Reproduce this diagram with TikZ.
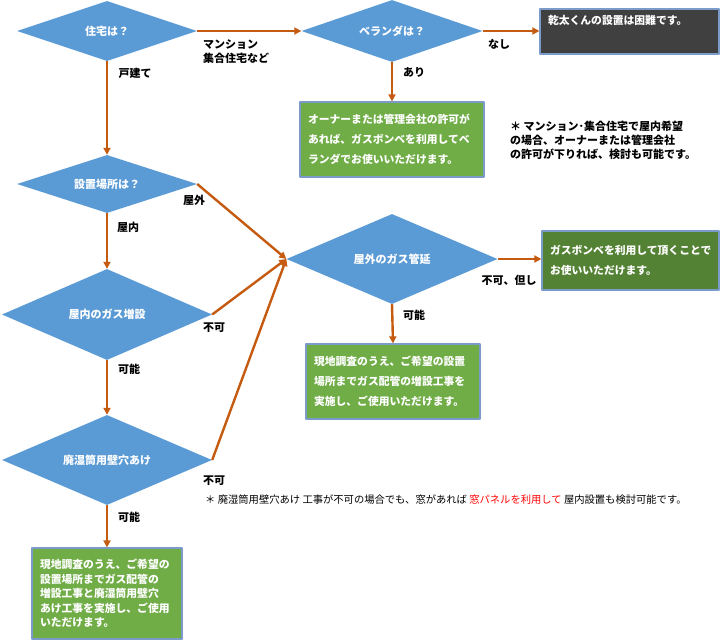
\documentclass[tikz,border=0pt]{standalone}
\usepackage{fontspec}
\setmainfont{Noto Sans CJK JP}
\usetikzlibrary{shapes.geometric,arrows.meta}
\definecolor{askblue}{HTML}{5B9BD5}
\definecolor{flowor}{HTML}{C55A11}
\definecolor{okgreen}{HTML}{70AD47}
\definecolor{deepgreen}{HTML}{548235}
\definecolor{ngdark}{HTML}{404040}
\definecolor{boxedge}{HTML}{7B9CCB}
\begin{document}
\begin{tikzpicture}[x=1pt,y=-1pt,line join=round,>={Triangle[length=7pt,width=7pt]},
  font=\fontsize{11}{14}\selectfont\bfseries,
  ask/.style={diamond,fill=askblue,text=white,inner sep=0pt,aspect=2.3},
  answer/.style={rectangle,fill=okgreen,draw=boxedge,line width=1.2pt,text=white,
    align=left,inner xsep=8pt,font=\fontsize{10.8}{20}\selectfont\bfseries},
  flow/.style={->,draw=flowor,line width=2.4pt},
  tag/.style={inner sep=0pt}]
	\useasboundingbox (0,0) rectangle (720,640);
	% questions
	\node[ask,minimum width=180pt,minimum height=60pt] (house) at (107,31) {住宅は？};
	\node[ask,minimum width=181pt,minimum height=62pt] (veranda) at (392,31) {ベランダは？};
	\node[ask,minimum width=180pt,minimum height=58pt] (place) at (107,184) {設置場所は？};
	\node[ask,minimum width=210pt,minimum height=91pt] (indoor) at (107,314.5) {屋内のガス増設};
	\node[ask,minimum width=210pt,minimum height=90pt] (wall) at (107,460) {廃湿筒用壁穴あけ};
	\node[ask,minimum width=211pt,minimum height=90pt] (outdoor) at (392,259) {屋外のガス管延};
	% answers
	\node[answer,fill=ngdark,text width=163pt,minimum height=45pt,text depth=24pt] (hard) at (629.5,31.5) {乾太くんの設置は困難です。};
	\node[answer,text width=168pt,minimum height=75pt] (verandabox) at (392,139.5) {オーナーまたは管理会社の許可が\\あれば、ガスボンベを利用してベ\\ランダでお使いいただけます。};
	\node[answer,fill=deepgreen,text width=161pt,minimum height=59pt] (bottle) at (630.5,260.5) {ガスボンベを利用して頂くことで\\お使いいただけます。};
	\node[answer,text width=158pt,minimum height=75pt] (pipebox) at (393,381.5) {現地調査のうえ、ご希望の設置\\場所までガス配管の増設工事を\\実施し、ご使用いただけます。};
	\node[answer,text width=134pt,minimum height=91pt,font=\fontsize{10.8}{14.5}\selectfont\bfseries] (wallbox) at (107,593.5) {現地調査のうえ、ご希望の\\設置場所までガス配管の\\増設工事と廃湿筒用壁穴\\あけ工事を実施し、ご使用\\いただけます。};
	% connectors
	\draw[flow] (house.east) -- (veranda.west);
	\draw[flow] (veranda.east) -- (veranda.east -| hard.west);
	\draw[flow] (veranda.south) -- (verandabox.north);
	\draw[flow] (house.south) -- (place.north);
	\draw[flow] (place.south) -- (indoor.north);
	\draw[flow] (indoor.south) -- (wall.north);
	\draw[flow] (wall.south) -- (wallbox.north);
	\draw[flow] (place.east) -- (outdoor.west);
	\draw[flow] (indoor.east) -- (outdoor.west);
	\draw[flow] (wall.east) -- (outdoor.west);
	\draw[flow] (outdoor.east) -- (outdoor.east -| bottle.west);
	\draw[flow] (outdoor.south) -- (pipebox.north);
	% labels
	\node[tag,anchor=west,align=left] (lmansion) at (203,52) {マンション\\集合住宅など};
	\node[tag] (ldetached) at (135,73) {戸建て};
	\node[tag] (lnone) at (499,44) {なし};
	\node[tag] (lyes) at (414,72) {あり};
	\node[tag] (loutside) at (194,200) {屋外};
	\node[tag] (linside) at (128,227) {屋内};
	\node[tag] (lindoorng) at (214,328) {不可};
	\node[tag] (lindoorok) at (129,369) {可能};
	\node[tag] (lwallng) at (214,481) {不可};
	\node[tag] (lwallok) at (129,517) {可能};
	\node[tag] (lbut) at (509,280) {不可、但し};
	\node[tag] (loutok) at (414,315) {可能};
	% notes
	\node[tag,anchor=west,align=left] (noteflat) at (510,140) {＊ マンション･集合住宅で屋内希望\\の場合、オーナーまたは管理会社\\の許可が下りれば、検討も可能です。};
	\node[tag,anchor=west,font=\fontsize{10.3}{12}\selectfont] (notewall) at (205,500) {＊ 廃湿筒用壁穴あけ 工事が不可の場合でも、窓があれば \textcolor{red}{窓パネルを利用して} 屋内設置も検討可能です。};
\end{tikzpicture}
\end{document}
